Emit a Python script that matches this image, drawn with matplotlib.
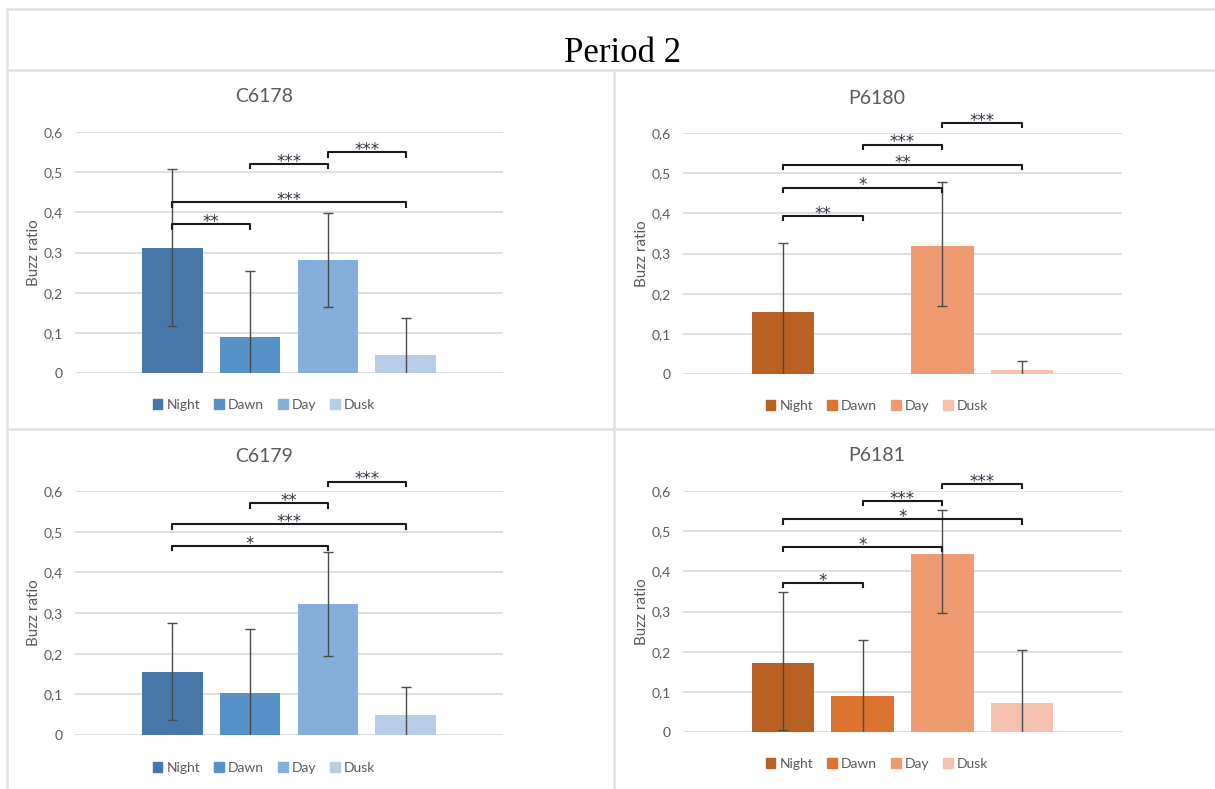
import numpy as np
import matplotlib
matplotlib.use('Agg')
from matplotlib import pyplot as plt
from matplotlib.lines import Line2D
from matplotlib.patches import Patch
from matplotlib.ticker import FuncFormatter

plt.rcParams['font.family'] = ['Lato', 'DejaVu Sans']

# categories and values
cats = ['Night', 'Dawn', 'Day', 'Dusk']

c6178_mean = [0.312, 0.090, 0.281, 0.046]
c6178_err_lo = [0.196, 0.165, 0.117, 0.092]
c6178_err_hi = [0.197, 0.164, 0.118, 0.092]
p6180_mean = [0.154, 0.0, 0.318, 0.011]
p6180_err_lo = [0.172, 0.0, 0.149, 0.021]
p6180_err_hi = [0.172, 0.0, 0.159, 0.021]
c6179_mean = [0.156, 0.103, 0.323, 0.048]
c6179_err_lo = [0.118, 0.158, 0.128, 0.070]
c6179_err_hi = [0.120, 0.158, 0.127, 0.070]
p6181_mean = [0.173, 0.089, 0.443, 0.072]
p6181_err_lo = [0.167, 0.140, 0.146, 0.132]
p6181_err_hi = [0.175, 0.140, 0.109, 0.132]

# significance brackets: (from, to, height, label)
c6178_sig = [(0, 1, 0.370, '**'), (0, 3, 0.425, '***'), (1, 2, 0.521, '***'), (2, 3, 0.549, '***')]
p6180_sig = [(0, 1, 0.394, '**'), (0, 2, 0.464, '*'), (0, 3, 0.521, '**'), (1, 2, 0.571, '***'), (2, 3, 0.625, '***')]
c6179_sig = [(0, 2, 0.465, '*'), (0, 3, 0.518, '***'), (1, 2, 0.570, '**'), (2, 3, 0.623, '***')]
p6181_sig = [(0, 1, 0.371, '*'), (0, 2, 0.461, '*'), (0, 3, 0.530, '*'), (1, 2, 0.575, '***'), (2, 3, 0.618, '***')]

blues = ['#4677a8', '#5691c8', '#85aedb', '#b8cde8']
oranges = ['#b96023', '#dc7430', '#ef9a70', '#f5c1ae']

W, H = 1215, 789
fig = plt.figure(figsize=(W / 100, H / 100), dpi=100)
grey = '#595959'


def px_axes(x0, y0, x1, y1):
    # pixel box (top-left origin) -> figure axes
    return fig.add_axes([x0 / W, 1 - y1 / H, (x1 - x0) / W, (y1 - y0) / H])


def panel(box, name, mean, err_lo, err_hi, sig, colors, title_xy, ylab_x, leg_y):
    ax = px_axes(*box)
    ind = np.arange(len(cats))
    ax.bar(ind, mean, 0.78, color=colors, zorder=2)
    for i in ind:
        if err_hi[i] > 0:
            ax.errorbar(i, mean[i], yerr=[[err_lo[i]], [err_hi[i]]], fmt='none', ecolor='#4a4a4a',
                        elinewidth=1, capsize=3.5, capthick=1, zorder=3)
    ax.set_xlim(-1.25, 4.25)
    ax.set_ylim(0, 0.6)
    ax.set_yticks(np.arange(0, 0.61, 0.1))
    ax.yaxis.set_major_formatter(FuncFormatter(lambda v, p: '0' if v < 1e-9 else f'{v:.1f}'.replace('.', ',')))
    ax.set_xticks([])
    ax.tick_params(axis='y', length=0, pad=9, labelsize=10, labelcolor=grey)
    ax.grid(axis='y', color='#d9d9d9', lw=1.2, zorder=0)
    ax.set_axisbelow(True)
    for s in ax.spines.values():
        s.set_visible(False)

    # brackets
    for a, b, h, lab in sig:
        ax.plot([a, a, b, b], [h - 0.011, h, h, h - 0.011], color='#1a1a1a', lw=1.5,
                clip_on=False, zorder=4)
        ax.text((a + b) / 2, h - 0.007, lab, ha='center', va='baseline', fontsize=12,
                family='DejaVu Sans', color='#333344', clip_on=False)

    fig.text(title_xy[0] / W, 1 - title_xy[1] / H, name, ha='center', va='center',
             fontsize=14, color=grey)
    fig.text(ylab_x / W, 1 - (box[1] + box[3]) / 2 / H, 'Buzz ratio', rotation=90,
             ha='center', va='center', fontsize=11, color=grey)
    handles = [Patch(color=c) for c in colors]
    fig.legend(handles, cats, loc='center', bbox_to_anchor=(title_xy[0] / W, 1 - leg_y / H),
               ncol=4, frameon=False, fontsize=10, handlelength=0.7, handleheight=0.7,
               handletextpad=0.3, columnspacing=1.0, labelcolor=grey)
    return ax


panel((75, 132, 503, 373), 'C6178', c6178_mean, c6178_err_lo, c6178_err_hi, c6178_sig,
      blues, (264, 97), 34, 405)
panel((683, 133, 1122, 374), 'P6180', p6180_mean, p6180_err_lo, p6180_err_hi, p6180_sig,
      oranges, (877, 99), 642, 406)
panel((75, 491, 503, 735), 'C6179', c6179_mean, c6179_err_lo, c6179_err_hi, c6179_sig,
      blues, (264, 457), 34, 768)
panel((683, 491, 1122, 732), 'P6181', p6181_mean, p6181_err_lo, p6181_err_hi, p6181_sig,
      oranges, (877, 456), 642, 764)

# frame lines around the layout
frame = '#e0e0e0'
for (x0, y0, x1, y1) in [(7, 9, W, 9), (7, 9, 7, H), (7, 70, W, 70), (614, 70, 614, H), (7, 429, W, 429)]:
    fig.add_artist(Line2D([x0 / W, x1 / W], [1 - y0 / H, 1 - y1 / H], color=frame, lw=1.8))

fig.text(622 / W, 1 - 53 / H, 'Period 2', ha='center', va='center', fontsize=25,
         family='Liberation Serif', color='black')

fig.savefig('out.png', dpi=100, facecolor='white')
